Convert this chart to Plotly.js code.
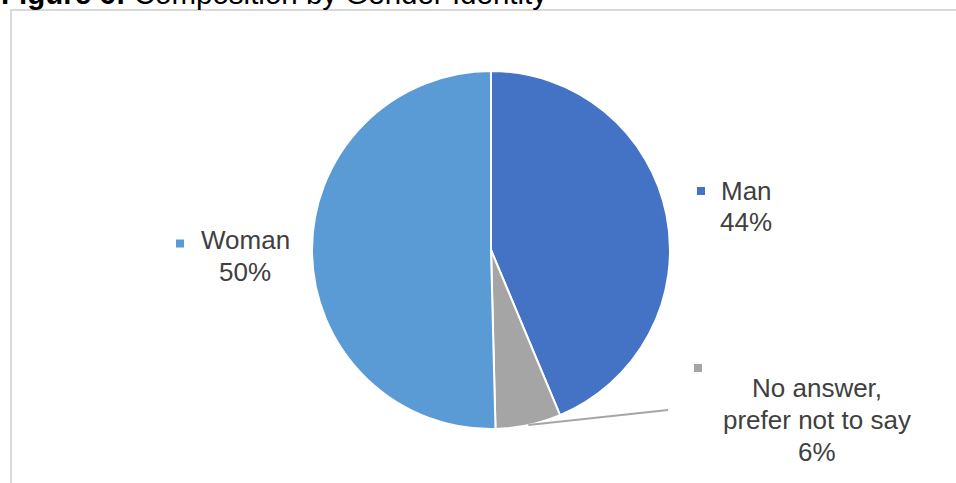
<!DOCTYPE html>
<html>
<head>
<meta charset="utf-8">
<script src="https://cdn.plot.ly/plotly-3.0.1.min.js"></script>
<style>
html,body{margin:0;padding:0;background:#fff;overflow:hidden;}
#chart{width:956px;height:483px;}
</style>
</head>
<body>
<div id="chart"></div>
<script>
// Data
const categories = ["Man", "No answer, prefer not to say", "Woman"];
const labelLines = [["Man"], ["No answer,", "prefer not to say"], ["Woman"]];
const values = [43.7, 5.9, 50.4];
const colors = ["#4472C4", "#A5A5A5", "#5B9BD5"];
const titleBold = "Figure 6:";
const titleRest = "Composition by Gender Identity";

const W = 956, H = 483;
const px = x => x / W;
const py = y => 1 - y / H;

const cx = 491, cy = 250, R = 179;
const total = values.reduce((a, b) => a + b, 0);
const pct = values.map(v => Math.round(v / total * 100) + "%");

const labelFont = {family: "Liberation Sans, Arial, sans-serif", size: 26, color: "#404040"};
// label placement (layout): center x, first-line center y, line gap, swatch position
const labelPos = [
  {x: 746, y: 191, gap: 31, sx: 701, sy: 191},
  {x: 817, y: 388, gap: 32, sx: 698, sy: 368},
  {x: 245, y: 240, gap: 32, sx: 180, sy: 243.5}
];

const annotations = [];
const shapes = [];
categories.forEach((c, i) => {
  const lines = labelLines[i].concat([pct[i]]);
  const p = labelPos[i];
  lines.forEach((t, k) => {
    annotations.push({
      text: t, xref: "paper", yref: "paper",
      x: px(p.x), y: py(p.y + k * p.gap),
      xanchor: "center", yanchor: "middle",
      showarrow: false, font: labelFont
    });
  });
  shapes.push({
    type: "rect", xref: "paper", yref: "paper",
    x0: px(p.sx - 4), x1: px(p.sx + 4), y0: py(p.sy - 4), y1: py(p.sy + 4),
    fillcolor: colors[i], line: {width: 0}
  });
});

// leader line for small slice
(function () {
  const cum = values[0];
  const mid = (cum + values[1] / 2) / total * 2 * Math.PI;
  const sx = cx + R * Math.sin(mid), sy = cy - R * Math.cos(mid);
  shapes.push({
    type: "line", xref: "paper", yref: "paper",
    x0: px(sx), y0: py(sy), x1: px(668), y1: py(410),
    line: {color: "#A6A6A6", width: 2}
  });
})();

// chart frame
shapes.push({
  type: "rect", xref: "paper", yref: "paper",
  x0: px(11), x1: px(W + 10), y0: py(H + 10), y1: py(10),
  line: {color: "#D9D9D9", width: 2}, fillcolor: "rgba(0,0,0,0)", layer: "below"
});

annotations.push({
  text: "<b>" + titleBold + "</b> " + titleRest,
  xref: "paper", yref: "paper", x: px(-1), y: py(-6),
  xanchor: "left", yanchor: "middle", showarrow: false,
  font: {family: "Liberation Sans, Arial, sans-serif", size: 29.5, color: "#000"}
});

const data = [{
  type: "pie",
  labels: categories,
  values: values,
  sort: false,
  direction: "clockwise",
  rotation: 0,
  marker: {colors: colors, line: {color: "#FFFFFF", width: 2}},
  textinfo: "none",
  hoverinfo: "label+percent",
  showlegend: false,
  domain: {x: [px(cx - R), px(cx + R)], y: [py(cy + R), py(cy - R)]}
}];

const layout = {
  width: W, height: H,
  margin: {l: 0, r: 0, t: 0, b: 0},
  paper_bgcolor: "#FFFFFF",
  showlegend: false,
  annotations: annotations,
  shapes: shapes
};

Plotly.newPlot("chart", data, layout, {displayModeBar: false, staticPlot: true});
</script>
</body>
</html>
